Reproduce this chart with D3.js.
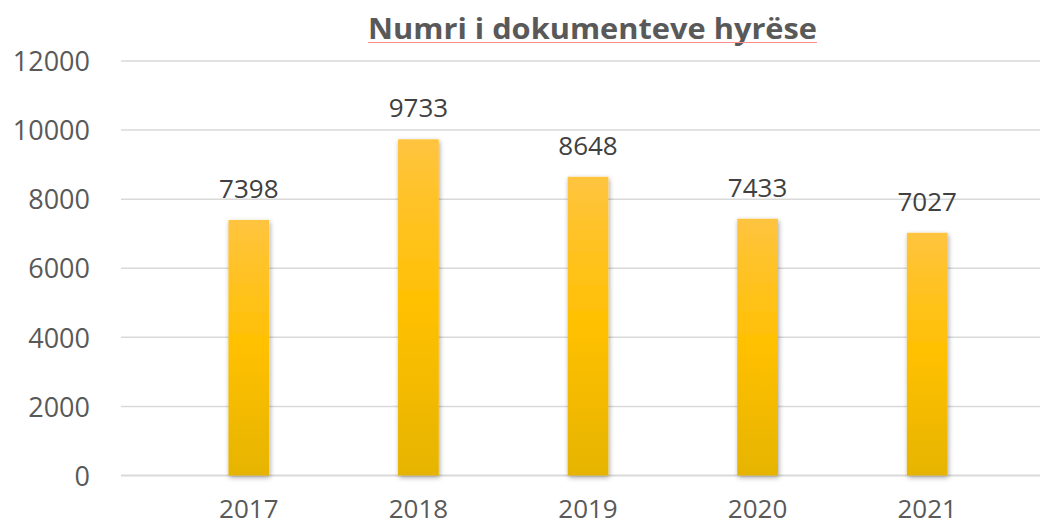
<!DOCTYPE html>
<html>
<head>
<meta charset="utf-8">
<script src="https://cdn.jsdelivr.net/npm/d3@7"></script>
<style>
  body { margin: 0; background: #fff; }
  svg { display: block; font-family: "Open Sans", "DejaVu Sans", sans-serif; }
</style>
</head>
<body>
<div id="chart"></div>
<script>
// data
const years = ["2017", "2018", "2019", "2020", "2021"];
const docCounts = [7398, 9733, 8648, 7433, 7027];
const yTicks = [0, 2000, 4000, 6000, 8000, 10000, 12000];
const chartTitle = "Numri i dokumenteve hyrëse";

const W = 1040, H = 527;

const svg = d3.select("#chart")
    .append("svg")
    .attr("width", W)
    .attr("height", H);

const defs = svg.append("defs");

// bar gradient (top lighter, bottom darker)
const grad = defs.append("linearGradient")
    .attr("id", "barGrad")
    .attr("x1", 0).attr("y1", 0).attr("x2", 0).attr("y2", 1);
grad.append("stop").attr("offset", "0%").attr("stop-color", "#ffc43f");
grad.append("stop").attr("offset", "50%").attr("stop-color", "#ffc000");
grad.append("stop").attr("offset", "100%").attr("stop-color", "#e6b400");

const shadow = defs.append("filter")
    .attr("id", "barShadow")
    .attr("x", "-40%").attr("y", "-10%")
    .attr("width", "180%").attr("height", "120%");
shadow.append("feDropShadow")
    .attr("dx", 1).attr("dy", 2)
    .attr("stdDeviation", 2.5)
    .attr("flood-color", "#000")
    .attr("flood-opacity", 0.35);

const x = d3.scaleBand()
    .domain(years)
    .range([164, 1012])
    .paddingInner(0.76)
    .paddingOuter(0.38);

const y = d3.scaleLinear()
    .domain([0, 12000])
    .range([475.5, 61]);

// gridlines
svg.append("g")
    .selectAll("line")
    .data(yTicks)
    .join("line")
    .attr("x1", 121)
    .attr("x2", W)
    .attr("y1", d => y(d))
    .attr("y2", d => y(d))
    .attr("stroke", "#d9d9d9")
    .attr("stroke-width", d => d === 0 ? 2 : 1.5);

// y axis labels
const yAxis = d3.axisLeft(y)
    .tickValues(yTicks)
    .tickFormat(d3.format("d"))
    .tickSize(0)
    .tickPadding(0);

const gy = svg.append("g")
    .attr("transform", "translate(90,0)")
    .call(yAxis);
gy.select(".domain").remove();
gy.selectAll("text")
    .attr("fill", "#595959")
    .attr("font-size", 27)
    .attr("font-family", "Open Sans, sans-serif")
    .attr("dy", "0.36em");

// x axis labels
const xAxis = d3.axisBottom(x).tickSize(0).tickPadding(0);
const gx = svg.append("g")
    .attr("transform", "translate(0,518)")
    .call(xAxis);
gx.select(".domain").remove();
gx.selectAll("text")
    .attr("fill", "#595959")
    .attr("font-size", 26)
    .attr("font-family", "Open Sans, sans-serif")
    .attr("dy", 0);

// bars
const barData = years.map((yr, i) => ({ year: yr, value: docCounts[i] }));

svg.append("g")
    .selectAll("rect")
    .data(barData)
    .join("rect")
    .attr("x", d => x(d.year))
    .attr("y", d => y(d.value))
    .attr("width", x.bandwidth())
    .attr("height", d => y(0) - y(d.value))
    .attr("fill", "url(#barGrad)")
    .attr("filter", "url(#barShadow)");

// value labels
svg.append("g")
    .selectAll("text")
    .data(barData)
    .join("text")
    .attr("x", d => x(d.year) + x.bandwidth() / 2)
    .attr("y", d => y(d.value) - 22)
    .attr("text-anchor", "middle")
    .attr("fill", "#404040")
    .attr("font-size", 26)
    .text(d => d.value);

// title
svg.append("text")
    .attr("x", 592.5)
    .attr("y", 39)
    .attr("text-anchor", "middle")
    .attr("fill", "#595959")
    .attr("font-size", 29)
    .attr("font-weight", "bold")
    .attr("textLength", 449)
    .attr("lengthAdjust", "spacingAndGlyphs")
    .text(chartTitle);

svg.append("line")
    .attr("x1", 368).attr("x2", 817)
    .attr("y1", 42.5).attr("y2", 42.5)
    .attr("stroke", "#ff8f8f")
    .attr("stroke-width", 1.2);
</script>
</body>
</html>
